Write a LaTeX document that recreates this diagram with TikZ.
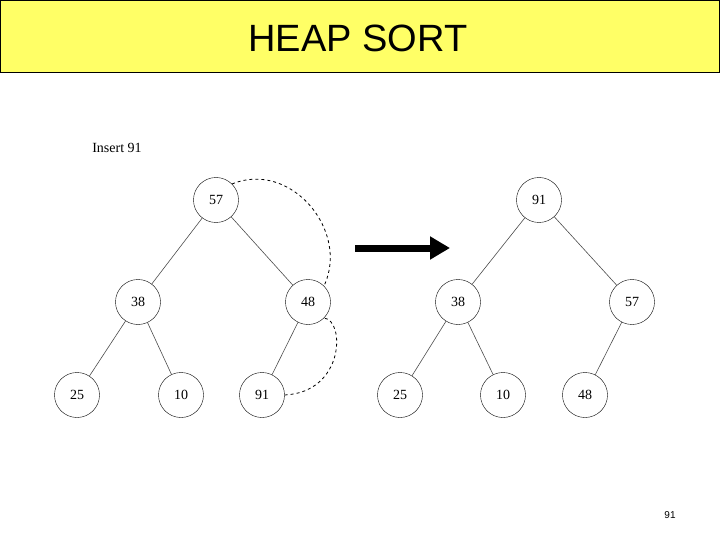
\documentclass[tikz,border=0pt]{standalone}
\usepackage{fontspec}
\setmainfont{Liberation Serif}
\newfontfamily\hsans{Liberation Sans}
\usetikzlibrary{arrows.meta}
\begin{document}
\begin{tikzpicture}[x=1pt,y=-1pt,
  hn/.style={circle,draw,minimum size=45pt,inner sep=0pt,font=\fontsize{14}{16}\selectfont},
  ed/.style={draw=black!70,line width=0.6pt},
  dsh/.style={dashed,line width=0.8pt}]
\useasboundingbox (0,0) rectangle (720,540);
\node[draw,fill={rgb,255:red,255;green,255;blue,102},line width=1pt,minimum width=719pt,minimum height=72pt,inner sep=0pt] (title) at (360,36.5) {};
\node[font=\hsans\fontsize{38}{40}\selectfont] (tt) at (358,38) {HEAP SORT};
\node[font=\fontsize{14}{16}\selectfont] (ins) at (117,148) {Insert 91};
\node[font=\hsans\fontsize{10}{12}\selectfont] (pg) at (670,515) {91};
% left tree
\node[hn] (a1) at (216,200) {57};
\node[hn] (a2) at (138,302) {38};
\node[hn] (a3) at (308,302) {48};
\node[hn] (a4) at (77,395) {25};
\node[hn] (a5) at (181,395) {10};
\node[hn] (a6) at (262,395) {91};
\draw[ed] (a1)--(a2); \draw[ed] (a1)--(a3); \draw[ed] (a2)--(a4);
\draw[ed] (a2)--(a5); \draw[ed] (a3)--(a6);
\draw[dsh] (a1.north east) .. controls (290,160) and (350,230) .. (a3.north east);
\draw[dsh] (a6.east) .. controls (345,392) and (345,320) .. (a3.south east);
% arrow
\coordinate (p) at (355,248); \coordinate (q) at (450,248);
\draw[line width=7pt,-{Triangle[length=20pt,width=22pt]}] (p)--(q);
% right tree
\node[hn] (b1) at (539,200) {91};
\node[hn] (b2) at (458,302) {38};
\node[hn] (b3) at (632,302) {57};
\node[hn] (b4) at (400,395) {25};
\node[hn] (b5) at (503,395) {10};
\node[hn] (b6) at (585,395) {48};
\draw[ed] (b1)--(b2); \draw[ed] (b1)--(b3); \draw[ed] (b2)--(b4);
\draw[ed] (b2)--(b5); \draw[ed] (b3)--(b6);
\end{tikzpicture}
\end{document}
